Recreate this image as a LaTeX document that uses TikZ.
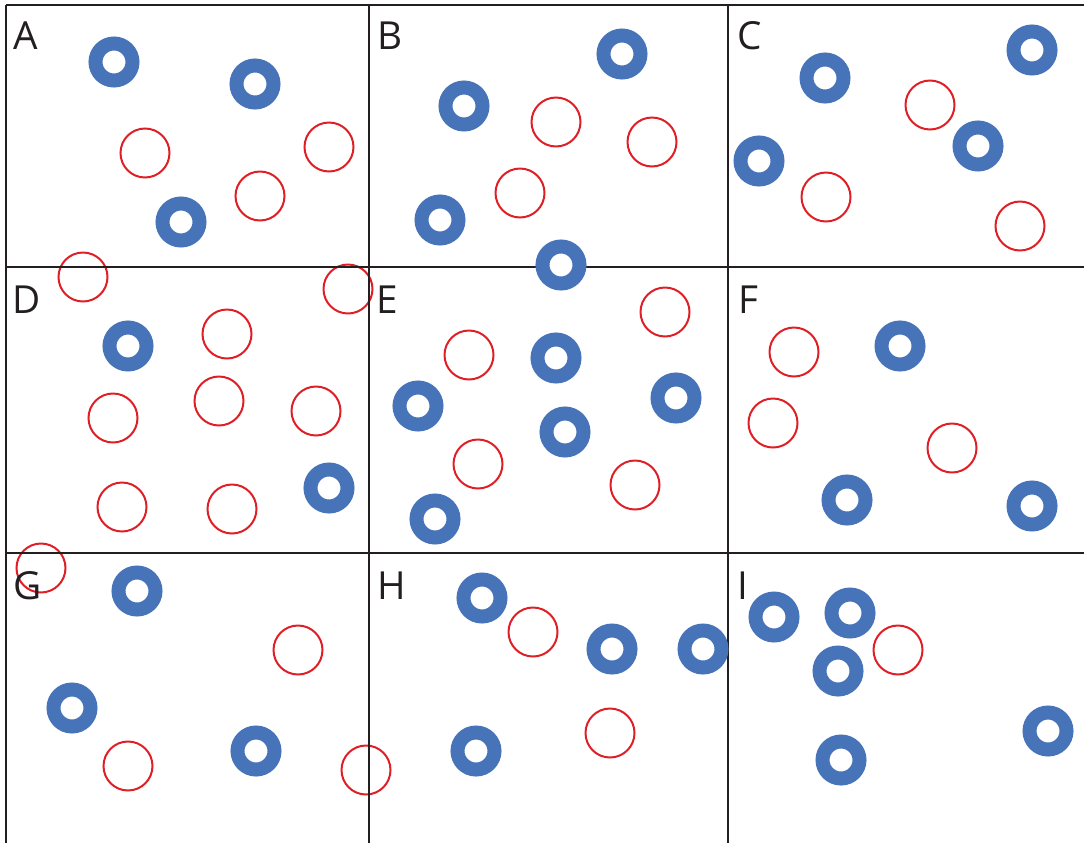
\documentclass[tikz,border=0pt]{standalone}
\usepackage{fontspec}
\setmainfont{Open Sans}
\usepackage{tikz}
\definecolor{ringblue}{RGB}{71,115,185}
\definecolor{dotred}{RGB}{222,32,38}
\definecolor{gridgray}{RGB}{35,31,32}
\tikzset{
    ring/.style={draw=ringblue,line width=10.5pt,fill=white},
    hollow/.style={draw=dotred,line width=1.5pt},
    gridline/.style={draw=gridgray,line width=2pt},
    panel/.style={anchor=base west,inner sep=0.75pt,font=\fontsize{29}{32}\selectfont,text=gridgray}
}

\begin{document}
\begin{tikzpicture}[x=0.75pt,y=0.75pt,yscale=-1,xscale=1]
\useasboundingbox (0,0) rectangle (1084,843);

%Shape: red circles
\draw [hollow] (145,153) circle (24.5) ;
\draw [hollow] (329,147) circle (24.5) ;
\draw [hollow] (260,196) circle (24.5) ;
\draw [hollow] (83,277) circle (24.5) ;
\draw [hollow] (556,122) circle (24.5) ;
\draw [hollow] (652,142) circle (24.5) ;
\draw [hollow] (520,193) circle (24.5) ;
\draw [hollow] (930,105) circle (24.5) ;
\draw [hollow] (826,197) circle (24.5) ;
\draw [hollow] (1020,226) circle (24.5) ;
\draw [hollow] (348,289) circle (24.5) ;
\draw [hollow] (227,334) circle (24.5) ;
\draw [hollow] (113,418) circle (24.5) ;
\draw [hollow] (219,401) circle (24.5) ;
\draw [hollow] (316,411) circle (24.5) ;
\draw [hollow] (122,507) circle (24.5) ;
\draw [hollow] (232,509) circle (24.5) ;
\draw [hollow] (41,568) circle (24.5) ;
\draw [hollow] (665,312) circle (24.5) ;
\draw [hollow] (469,355) circle (24.5) ;
\draw [hollow] (478,464) circle (24.5) ;
\draw [hollow] (635,485) circle (24.5) ;
\draw [hollow] (794,352) circle (24.5) ;
\draw [hollow] (773,423) circle (24.5) ;
\draw [hollow] (952,448) circle (24.5) ;
\draw [hollow] (298,650) circle (24.5) ;
\draw [hollow] (128,766) circle (24.5) ;
\draw [hollow] (366,770) circle (24.5) ;
\draw [hollow] (533,632) circle (24.5) ;
\draw [hollow] (610,733) circle (24.5) ;
\draw [hollow] (898,650) circle (24.5) ;

%Straight Lines: grid
\draw [gridline] (6,5) -- (1084,5) ;
\draw [gridline] (6,267) -- (1084,267) ;
\draw [gridline] (6,553) -- (1084,553) ;
\draw [gridline] (6,5) -- (6,843) ;
\draw [gridline] (369,5) -- (369,843) ;
\draw [gridline] (728,5) -- (728,843) ;

%Shape: blue rings
\draw [ring] (114,62) circle (18.5) ;
\draw [ring] (255,84) circle (18.5) ;
\draw [ring] (181,222) circle (18.5) ;
\draw [ring] (622,54) circle (18.5) ;
\draw [ring] (464,106) circle (18.5) ;
\draw [ring] (440,220) circle (18.5) ;
\draw [ring] (561,265) circle (18.5) ;
\draw [ring] (1032,50) circle (18.5) ;
\draw [ring] (825,78) circle (18.5) ;
\draw [ring] (978,146) circle (18.5) ;
\draw [ring] (759,161) circle (18.5) ;
\draw [ring] (128,346) circle (18.5) ;
\draw [ring] (329,488) circle (18.5) ;
\draw [ring] (556,358) circle (18.5) ;
\draw [ring] (418,406) circle (18.5) ;
\draw [ring] (676,398) circle (18.5) ;
\draw [ring] (565,432) circle (18.5) ;
\draw [ring] (435,519) circle (18.5) ;
\draw [ring] (900,346) circle (18.5) ;
\draw [ring] (847,500) circle (18.5) ;
\draw [ring] (1032,506) circle (18.5) ;
\draw [ring] (137,591) circle (18.5) ;
\draw [ring] (72,708) circle (18.5) ;
\draw [ring] (256,751) circle (18.5) ;
\draw [ring] (482,598) circle (18.5) ;
\draw [ring] (612,649) circle (18.5) ;
\draw [ring] (703,649) circle (18.5) ;
\draw [ring] (476,751) circle (18.5) ;
\draw [ring] (774,617) circle (18.5) ;
\draw [ring] (850,613) circle (18.5) ;
\draw [ring] (838,671) circle (18.5) ;
\draw [ring] (841,760) circle (18.5) ;
\draw [ring] (1048,731) circle (18.5) ;

% Text Node
\draw (12,49) node (labA) [panel] {A};
% Text Node
\draw (376,49) node (labB) [panel] {B};
% Text Node
\draw (736,49) node (labC) [panel] {C};
% Text Node
\draw (11,313) node (labD) [panel] {D};
% Text Node
\draw (375,313) node (labE) [panel] {E};
% Text Node
\draw (737,313) node (labF) [panel] {F};
% Text Node
\draw (12,599) node (labG) [panel] {G};
% Text Node
\draw (376,599) node (labH) [panel] {H};
% Text Node
\draw (736,599) node (labI) [panel] {I};

\end{tikzpicture}
\end{document}
